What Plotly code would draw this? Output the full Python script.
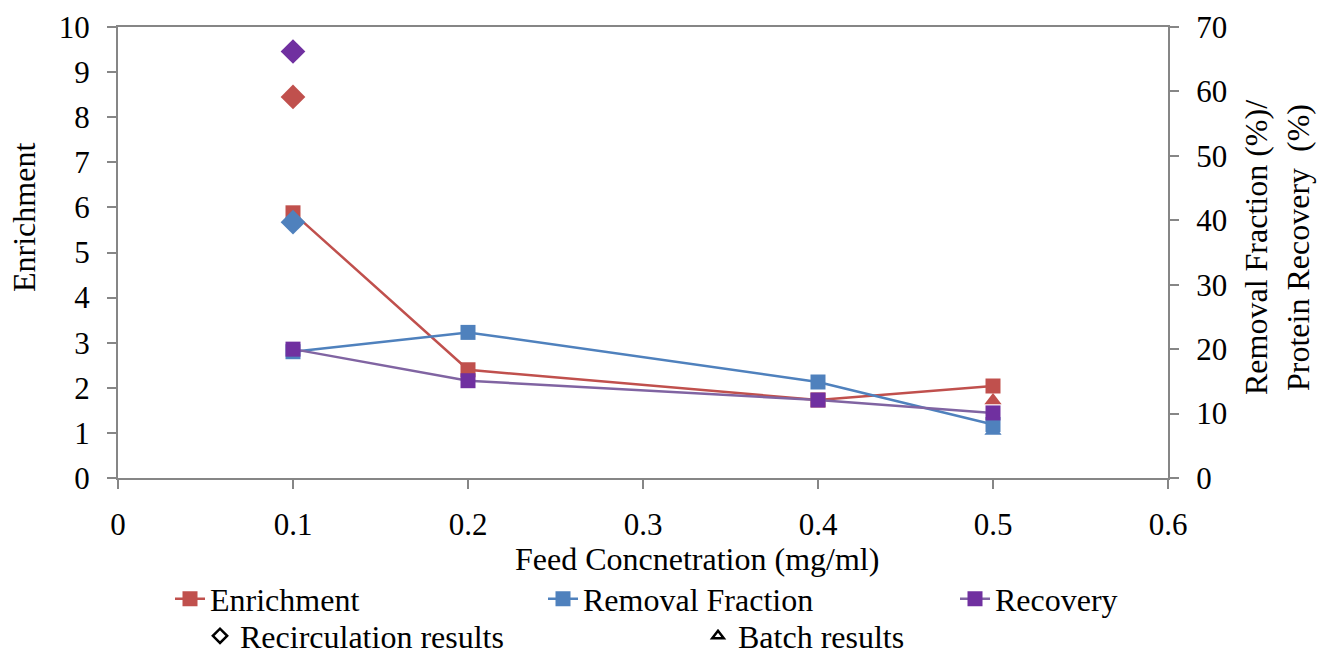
import plotly.graph_objects as go

# ---- data ----
feed = [0.1, 0.2, 0.4, 0.5]
enrichment = [5.88, 2.40, 1.73, 2.04]
removal_fraction = [19.6, 22.6, 14.9, 8.3]
recovery = [20.0, 15.1, 12.1, 10.1]

recirc_x = [0.1]
recirc_enrichment = [8.45]
recirc_removal = [39.7]
recirc_recovery = [66.2]

batch_x = [0.5]
batch_enrichment = [1.72]
batch_removal = [7.3]

x_ticks = [0, 0.1, 0.2, 0.3, 0.4, 0.5, 0.6]
y_ticks = list(range(0, 11))
y2_ticks = list(range(0, 71, 10))

RED = "#C0504D"
BLUE = "#4F81BD"
PURPLE_LINE = "#8064A2"
PURPLE = "#7030A0"
AXIS = "#868686"
FONT = "'Liberation Serif', 'Times New Roman', serif"

fig = go.Figure()

# batch triangles (drawn first, underneath)
fig.add_trace(go.Scatter(x=batch_x, y=batch_enrichment, mode="markers", yaxis="y",
                         marker=dict(symbol="triangle-up", size=15, color=RED), showlegend=False))
# main series
fig.add_trace(go.Scatter(x=feed, y=enrichment, mode="lines+markers", name="Enrichment", yaxis="y",
                         line=dict(color=RED, width=2.5),
                         marker=dict(symbol="square", size=15, color=RED), legend="legend"))
fig.add_trace(go.Scatter(x=recirc_x, y=recirc_enrichment, mode="markers", yaxis="y",
                         marker=dict(symbol="diamond", size=19, color=RED), showlegend=False))

fig.add_trace(go.Scatter(x=batch_x, y=batch_removal, mode="markers", yaxis="y2",
                         marker=dict(symbol="triangle-up", size=15, color=BLUE), showlegend=False))
fig.add_trace(go.Scatter(x=feed, y=removal_fraction, mode="lines+markers", name="Removal Fraction", yaxis="y2",
                         line=dict(color=BLUE, width=2.5),
                         marker=dict(symbol="square", size=15, color=BLUE), legend="legend2"))
fig.add_trace(go.Scatter(x=feed, y=recovery, mode="lines+markers", name="Recovery", yaxis="y2",
                         line=dict(color=PURPLE_LINE, width=2.5),
                         marker=dict(symbol="square", size=15, color=PURPLE), legend="legend3"))
fig.add_trace(go.Scatter(x=recirc_x, y=recirc_removal, mode="markers", yaxis="y2",
                         marker=dict(symbol="diamond", size=19, color=BLUE), showlegend=False))
fig.add_trace(go.Scatter(x=recirc_x, y=recirc_recovery, mode="markers", yaxis="y2",
                         marker=dict(symbol="diamond", size=19, color=PURPLE), showlegend=False))

# legend-only entries
fig.add_trace(go.Scatter(x=[None], y=[None], mode="markers", name="Recirculation results", yaxis="y2",
                         marker=dict(symbol="diamond-open", size=11, color="black", line=dict(width=2.5)),
                         legend="legend4"))
fig.add_trace(go.Scatter(x=[None], y=[None], mode="markers", name="Batch results", yaxis="y2",
                         marker=dict(symbol="triangle-up-open", size=10, color="black", line=dict(width=2.5)),
                         legend="legend5"))

W, H = 1332, 655
L, R, T, B = 118, 164, 27, 177
PW, PH = W - L - R, H - T - B

def px_x(xpx):
    return (xpx - L) / PW

def px_y(ypx):
    return (H - B - ypx) / PH

def leg(xpx, ypx):
    return dict(x=px_x(xpx), y=px_y(ypx), xref="paper", yref="paper",
                xanchor="left", yanchor="middle", bgcolor="rgba(0,0,0,0)",
                font=dict(family=FONT, size=32, color="black"), borderwidth=0,
                tracegroupgap=0)

TICKFONT = dict(family=FONT, size=31, color="black")

fig.update_layout(
    width=W, height=H,
    margin=dict(l=L, r=R, t=T, b=B, autoexpand=False),
    paper_bgcolor="white", plot_bgcolor="white",
    font=dict(family=FONT, size=32, color="black"),
    xaxis=dict(range=[0, 0.6], tickmode="array", tickvals=x_ticks,
               ticktext=[f"{v:g}" for v in x_ticks],
               showgrid=False, zeroline=False, showline=True, linecolor=AXIS, linewidth=2,
               mirror=True, ticks="outside", ticklen=9, tickwidth=2, tickcolor=AXIS,
               tickfont=TICKFONT, ticklabelstandoff=9),
    yaxis=dict(range=[0, 10], tickmode="array", tickvals=y_ticks, showgrid=False, zeroline=False,
               showline=True, linecolor=AXIS, linewidth=2, ticks="outside", ticklen=9,
               tickwidth=2, tickcolor=AXIS, tickfont=TICKFONT, ticklabelstandoff=11),
    yaxis2=dict(range=[0, 70], tickmode="array", tickvals=y2_ticks, overlaying="y", side="right",
                showgrid=False, zeroline=False, showline=True, linecolor=AXIS, linewidth=2,
                ticks="outside", ticklen=9, tickwidth=2, tickcolor=AXIS,
                tickfont=TICKFONT, ticklabelstandoff=11),
    legend=leg(170, 599),
    legend2=leg(543, 599),
    legend3=leg(955, 599),
    legend4=leg(200, 636),
    legend5=leg(698, 636),
    showlegend=True,
    annotations=[
        dict(text="Enrichment", xref="paper", yref="paper", x=px_x(24), y=px_y(218),
             textangle=-90, showarrow=False, xanchor="center", yanchor="middle",
             font=dict(family=FONT, size=32, color="black")),
        dict(text="Feed Concnetration (mg/ml)", xref="paper", yref="paper", x=px_x(697),
             y=px_y(559), showarrow=False, xanchor="center", yanchor="middle",
             font=dict(family=FONT, size=32, color="black")),
        dict(text="Removal Fraction (%)/<br>Protein Recovery  (%)", xref="paper", yref="paper",
             x=px_x(1277), y=px_y(248), textangle=-90, showarrow=False,
             xanchor="center", yanchor="middle", align="center",
             font=dict(family=FONT, size=32, color="black")),
    ],
)

fig.write_html("out.html")
